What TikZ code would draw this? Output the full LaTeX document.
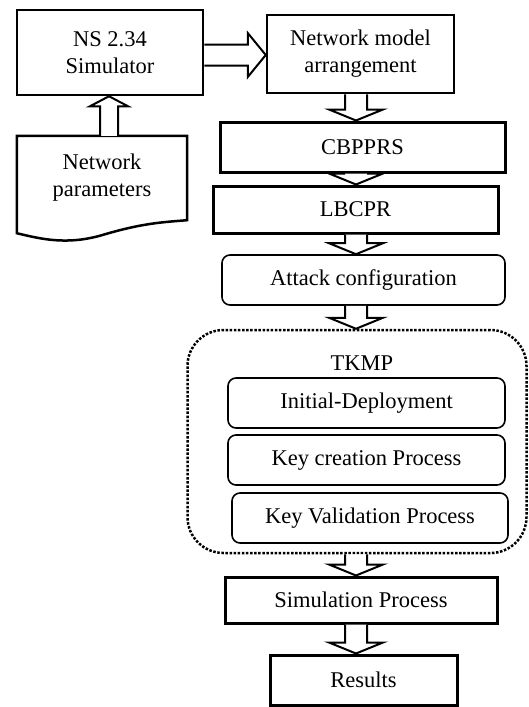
\documentclass[tikz,border=0pt]{standalone}
\usepackage{fontspec}
\setmainfont{Liberation Serif}
\usetikzlibrary{calc}

% vertical block arrow from the bottom of #1 to the top of #2, on the axis coordinate
\newcommand\flowdown[2]{%
  \draw[blockarrow] let \p1=(#1.south), \p2=(#2.north), \p3=(axis) in
    (\x3-11pt,\y1) -- (\x3-11pt,\y2+11pt) -- (\x3-27pt,\y2+11pt) -- (\x3,\y2)
    -- (\x3+27pt,\y2+11pt) -- (\x3+11pt,\y2+11pt) -- (\x3+11pt,\y1);}

\begin{document}
\begin{tikzpicture}[x=1pt,y=-1pt,
  every node/.style={font=\fontsize{22.5}{27}\selectfont, align=center, inner sep=0pt},
  mediumbox/.style={draw, line width=2.5pt},
  heavybox/.style={draw, line width=3pt},
  roundbox/.style={draw, line width=1.6pt, rounded corners=8pt},
  groupbox/.style={draw, line width=2.5pt, dash pattern=on 2.5pt off 1.6pt, rounded corners=36pt},
  blockarrow/.style={draw, line width=2pt, fill=white, line join=miter}]

\useasboundingbox (0,0) rectangle (529,707);

\coordinate (axis) at (356,0);
\coordinate (hy) at (0,55);
\coordinate (upx) at (109,0);

% left column
\node[mediumbox, minimum width=186, minimum height=85] (ns) at (110,52.5) {NS 2.34\\Simulator};
\node[minimum width=170, minimum height=84] (params) at (102,178) {Network\\parameters};
\draw[line width=2.5pt, line join=miter]
  (params.north west) -- (params.north east) -- (params.south east)
  .. controls +(-25,2) and +(40,-12) .. ($(params.south west)+(85,15)$)
  .. controls +(-35,10) and +(25,6) .. ($(params.south west)+(0,13)$) -- cycle;

% main column
\node[mediumbox, minimum width=187, minimum height=78] (net) at (360.5,54) {Network model\\arrangement};
\node[heavybox, minimum width=285, minimum height=50] (cbpprs) at (362.5,147) {CBPPRS};
\node[heavybox, minimum width=285, minimum height=47] (lbcpr) at (355.5,209.5) {LBCPR};
\node[roundbox, minimum width=283, minimum height=50] (attack) at (363.5,280) {Attack configuration};

\node[groupbox, minimum width=339, minimum height=223] (tkmp) at (357,441.5) {};
\node (tkmplabel) at (362,363) {TKMP};
\node[roundbox, minimum width=277, minimum height=50] (init) at (366.5,403) {Initial-Deployment};
\node[roundbox, minimum width=277, minimum height=50] (keycreate) at (366.5,460) {Key creation Process};
\node[roundbox, minimum width=276, minimum height=50] (keyvalid) at (370,518) {Key Validation Process};

\node[heavybox, minimum width=272, minimum height=46] (sim) at (361,600) {Simulation Process};
\node[heavybox, minimum width=187, minimum height=50] (results) at (363.5,680) {Results};

% block arrows
\draw[blockarrow] let \p1=(ns.east), \p2=(net.west), \p3=(hy) in
  (\x1,\y3+10.5pt) -- (\x2-18pt,\y3+10.5pt) -- (\x2-18pt,\y3+22pt) -- (\x2,\y3)
  -- (\x2-18pt,\y3-22pt) -- (\x2-18pt,\y3-10.5pt) -- (\x1,\y3-10.5pt);
\draw[blockarrow] let \p1=(params.north), \p2=(ns.south), \p3=(upx) in
  (\x3-9pt,\y1) -- (\x3-9pt,\y2-10pt) -- (\x3-19pt,\y2-10pt) -- (\x3,\y2)
  -- (\x3+19pt,\y2-10pt) -- (\x3+9pt,\y2-10pt) -- (\x3+9pt,\y1);
\flowdown{net}{cbpprs}
\flowdown{cbpprs}{lbcpr}
\flowdown{lbcpr}{attack}
\flowdown{attack}{tkmp}
\flowdown{tkmp}{sim}
\flowdown{sim}{results}
\end{tikzpicture}
\end{document}
